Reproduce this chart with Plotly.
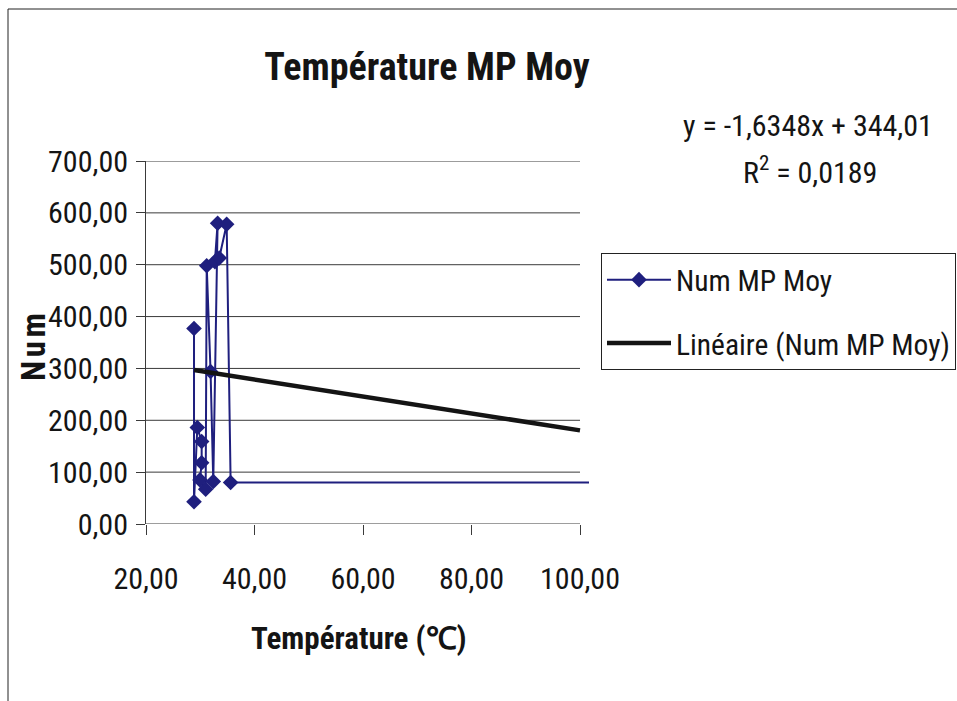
import plotly.graph_objects as go

# Num MP Moy against average temperature, in recording order
temperature = [28.85, 28.85, 29.46, 30.26, 30.26, 29.95, 31.0, 31.19, 31.9,
               32.4, 33.2, 32.7, 33.5, 34.87, 35.6, 120.0]
num_mp_moy = [377, 43, 186, 159, 118, 85, 67, 498, 294,
              82, 580, 506, 513, 578, 80, 80]

# Linear trendline as stated by the equation label
slope = -1.6348
intercept = 344.01
r_squared = 0.0189

x_ticks = [20, 40, 60, 80, 100]
x_tick_labels = ["20,00", "40,00", "60,00", "80,00", "100,00"]
y_ticks = [0, 100, 200, 300, 400, 500, 600, 700]
y_tick_labels = ["0,00", "100,00", "200,00", "300,00", "400,00", "500,00", "600,00", "700,00"]

FONT = "Roboto Condensed, Liberation Sans, sans-serif"
INK = "#141414"
NAVY = "#1f1f7e"
GRID = "#3a3a3a"

W, H = 957, 701
L, R, T, B = 146, 0, 161, 177
paper_w = W - L - R
plot_h = H - T - B
axis_right_px = 589               # right edge of the plotting area
x_lo, x_hi_axis = 20, 100
px_per_unit = 434 / 80.0
x_hi = x_lo + (axis_right_px - L) / px_per_unit


def px(xp):
    return (xp - L) / paper_w


def py(yp):
    return (H - B - yp) / plot_h


trend_x = [min(temperature), x_hi_axis]
trend_y = [slope * v + intercept for v in trend_x]

fig = go.Figure()
fig.add_trace(go.Scatter(
    x=temperature, y=num_mp_moy, mode="lines+markers", name="Num MP Moy",
    legendgroup="a",
    line=dict(color=NAVY, width=2),
    marker=dict(symbol="diamond", size=12, color=NAVY),
))
fig.add_trace(go.Scatter(
    x=trend_x, y=trend_y, mode="lines", name="Linéaire (Num MP Moy)",
    legendgroup="b",
    line=dict(color=INK, width=4.5),
))

shapes = []
# horizontal gridlines, stopping at the last x tick
for v in y_ticks[1:]:
    shapes.append(dict(type="line", xref="x", yref="y", x0=x_lo, x1=x_hi_axis,
                       y0=v, y1=v, line=dict(color=GRID, width=1), layer="below"))
# bottom axis line
shapes.append(dict(type="line", xref="x", yref="y", x0=x_lo, x1=x_hi_axis,
                   y0=0, y1=0, line=dict(color=GRID, width=1)))
# chart-area frame
shapes.append(dict(type="rect", xref="paper", yref="paper",
                   x0=px(8), x1=px(965), y0=py(9), y1=py(710),
                   line=dict(color="#222222", width=1)))

annotations = [
    dict(text=f"y = {slope:.4f}x + {intercept:.2f}".replace(".", ","),
         xref="paper", yref="paper", x=px(808), y=py(125),
         xanchor="center", yanchor="middle", showarrow=False,
         font=dict(family=FONT, size=30, color=INK)),
    dict(text=f"R<sup>2</sup> = {r_squared:.4f}".replace(".", ","),
         xref="paper", yref="paper", x=px(810), y=py(170),
         xanchor="center", yanchor="middle", showarrow=False,
         font=dict(family=FONT, size=30, color=INK)),
    dict(text="<b>N\u200au\u200am</b>", textangle=-90,
         xref="paper", yref="paper", x=px(33), y=py(347),
         xanchor="center", yanchor="middle", showarrow=False,
         font=dict(family=FONT, size=33, color=INK)),
    dict(text="<b>Température (\u2103)</b>",
         xref="paper", yref="paper", x=px(359), y=py(638),
         xanchor="center", yanchor="middle", showarrow=False,
         font=dict(family=FONT, size=31, color=INK)),
]

fig.update_layout(
    width=W, height=H,
    margin=dict(l=L, r=R, t=T, b=B),
    paper_bgcolor="white", plot_bgcolor="rgba(0,0,0,0)",
    font=dict(family=FONT, size=30, color=INK),
    title=dict(text="<b>Température MP Moy</b>", x=427 / W, y=1 - 67 / H,
               xanchor="center", yanchor="middle",
               font=dict(family=FONT, size=38, color=INK)),
    showlegend=True,
    legend=dict(x=px(956), y=py(253), xanchor="right", yanchor="top",
                bordercolor="#222222", borderwidth=1, bgcolor="white",
                tracegroupgap=22, itemwidth=64,
                font=dict(family=FONT, size=29.5, color=INK)),
    shapes=shapes,
    annotations=annotations,
    xaxis=dict(domain=[0, (axis_right_px - L) / paper_w], automargin=False,
               range=[x_lo, x_hi], tickvals=x_ticks, ticktext=x_tick_labels,
               showgrid=False, zeroline=False, showline=False,
               ticks="outside", ticklen=10, tickcolor=GRID,
               ticklabelstandoff=18,
               tickfont=dict(family=FONT, size=30, color=INK)),
    yaxis=dict(range=[0, 700], automargin=False,
               tickvals=y_ticks, ticktext=y_tick_labels,
               showgrid=False, zeroline=False, showline=True, linecolor=GRID,
               linewidth=1, ticks="outside", ticklen=9, tickcolor=GRID,
               ticklabelstandoff=2,
               tickfont=dict(family=FONT, size=30, color=INK)),
)

fig.write_html("out.html")
